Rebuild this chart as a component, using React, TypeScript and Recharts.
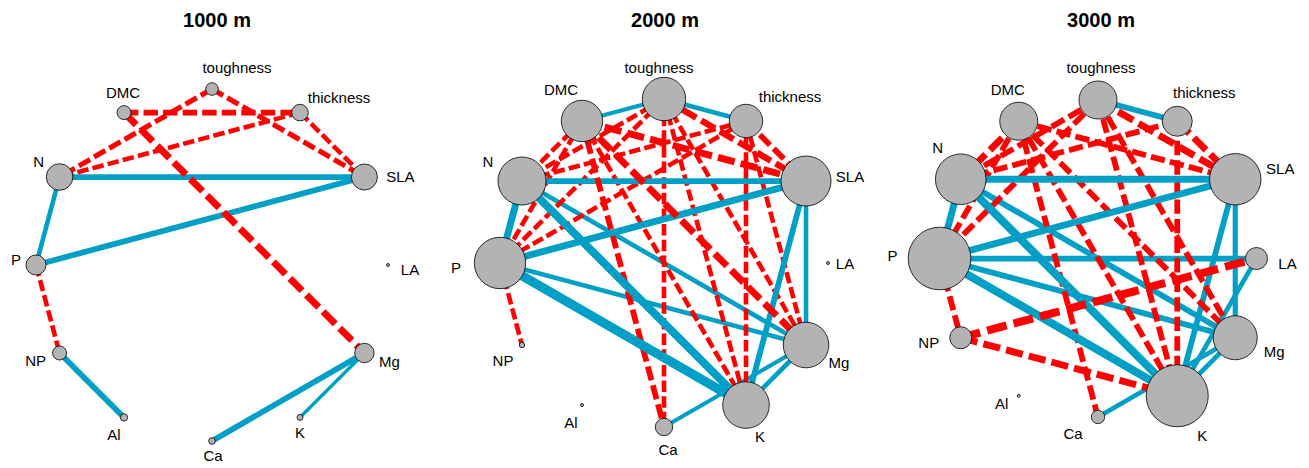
import React from 'react';
import { ScatterChart, Scatter, XAxis, YAxis } from 'recharts';

// Trait / nutrient nodes, laid out on a circle (unit coordinates)
const NODE_NAMES = ['toughness', 'thickness', 'SLA', 'LA', 'Mg', 'K', 'Ca', 'Al', 'NP', 'P', 'N', 'DMC'];
const NODE_X = [0, 0.5, 0.866, 1, 0.866, 0.5, 0, -0.5, -0.866, -1, -0.866, -0.5];
const NODE_Y = [1, 0.866, 0.5, 0, -0.5, -0.866, -1, -0.866, -0.5, 0, 0.5, 0.866];

const PANEL_TITLES = ['1000 m', '2000 m', '3000 m'];

// Node strength per elevation (drawn as circle radius)
const SIZE_1000 = [6.3, 8.3, 13, 1.5, 9.7, 3, 3.3, 3.7, 7, 10, 13.3, 7];
const SIZE_2000 = [21.7, 16.7, 25, 1.5, 22.8, 23.3, 8.7, 1.5, 2.7, 25.7, 24, 20.7];
const SIZE_3000 = [19, 15, 25.7, 11, 22, 31, 6.7, 1.5, 11, 31.3, 25.3, 19];

// Edges: [from, to, weight]; positive = positive correlation, negative = negative
type Edge = [string, string, number];

const EDGES_1000: Edge[] = [
  ['DMC', 'thickness', -5],
  ['DMC', 'Mg', -6],
  ['toughness', 'N', -4.5],
  ['toughness', 'SLA', -4.5],
  ['thickness', 'N', -4],
  ['thickness', 'SLA', -4],
  ['P', 'NP', -4],
  ['N', 'SLA', 5],
  ['N', 'P', 4],
  ['P', 'SLA', 5],
  ['NP', 'Al', 5],
  ['Mg', 'Ca', 5],
  ['Mg', 'K', 3],
];

const EDGES_2000: Edge[] = [
  ['DMC', 'toughness', 3.5],
  ['toughness', 'thickness', 4],
  ['N', 'SLA', 5],
  ['N', 'P', 6],
  ['P', 'SLA', 6],
  ['N', 'Mg', 4],
  ['N', 'K', 7],
  ['P', 'Mg', 4],
  ['P', 'K', 8],
  ['SLA', 'Mg', 4],
  ['SLA', 'K', 5],
  ['Mg', 'K', 4],
  ['Mg', 'Ca', 3.5],
  ['DMC', 'N', -4],
  ['DMC', 'P', -4],
  ['DMC', 'SLA', -6],
  ['DMC', 'Mg', -6],
  ['DMC', 'K', -4],
  ['DMC', 'Ca', -5],
  ['toughness', 'N', -4],
  ['toughness', 'P', -4],
  ['toughness', 'SLA', -5.5],
  ['toughness', 'Ca', -4],
  ['toughness', 'K', -4],
  ['toughness', 'Mg', -4],
  ['thickness', 'N', -4],
  ['thickness', 'P', -4],
  ['thickness', 'SLA', -5],
  ['thickness', 'K', -4],
  ['thickness', 'Mg', -4],
  ['P', 'NP', -4],
];

const EDGES_3000: Edge[] = [
  ['toughness', 'thickness', 5],
  ['N', 'SLA', 6],
  ['N', 'P', 6],
  ['P', 'SLA', 6],
  ['P', 'LA', 5],
  ['P', 'Mg', 5],
  ['P', 'K', 7],
  ['N', 'Mg', 5],
  ['N', 'K', 7],
  ['SLA', 'Mg', 4.5],
  ['SLA', 'K', 5],
  ['LA', 'K', 4],
  ['Mg', 'K', 4],
  ['Mg', 'Ca', 4],
  ['DMC', 'N', -6],
  ['toughness', 'N', -5],
  ['thickness', 'N', -5],
  ['DMC', 'SLA', -5],
  ['toughness', 'SLA', -6],
  ['thickness', 'SLA', -6],
  ['DMC', 'P', -5],
  ['toughness', 'P', -5],
  ['DMC', 'Ca', -5],
  ['DMC', 'K', -5],
  ['DMC', 'Mg', -5],
  ['toughness', 'K', -5],
  ['toughness', 'Mg', -5],
  ['thickness', 'K', -5],
  ['P', 'NP', -5],
  ['NP', 'LA', -7],
  ['NP', 'K', -6],
];

const SIZES = [SIZE_1000, SIZE_2000, SIZE_3000];
const EDGES = [EDGES_1000, EDGES_2000, EDGES_3000];

// ---- layout & style ----
const W = 1309;
const H = 468;
const BLUE = '#00A0C6';
const RED = '#FF0000';
const NODE_FILL = '#B3B3B3';
const FONT = '"Liberation Sans", Arial, Helvetica, sans-serif';
const WIDTH_SCALE = 1.15;

const PANELS = [
  { left: 0, width: 436, cx: 212, cy: 265, r: 176, titleX: 217 },
  { left: 436, width: 442, cx: 664, cy: 263, r: 164, titleX: 665 },
  { left: 878, width: 431, cx: 1098, cy: 258.5, r: 158.5, titleX: 1101 },
];

// label centre offsets (px) from each node centre, per panel
const LABEL_OFFSETS: Record<string, [number, number]>[] = [
  {
    toughness: [25, -21], thickness: [39, -15], SLA: [36, 0], LA: [22, 5], Mg: [25, 9], K: [0, 15],
    Ca: [1, 15], Al: [-10, 17], NP: [-24, 8], P: [-20, -5], N: [-21, -15], DMC: [-1, -20],
  },
  {
    toughness: [-5, -31], thickness: [44, -24], SLA: [44, -4], LA: [17, 1], Mg: [33, 18], K: [14, 32],
    Ca: [4, 23], Al: [-11, 18], NP: [-19, 16], P: [-44, 5], N: [-34, -19], DMC: [-21, -31],
  },
  {
    toughness: [3, -32], thickness: [27, -28], SLA: [45, -11], LA: [31, 5], Mg: [39, 14], K: [25, 40],
    Ca: [-25, 17], Al: [-17, 8], NP: [-32, 5], P: [-47, -3], N: [-23, -32], DMC: [-11, -31],
  },
];

const pt = (name: string) => {
  const i = NODE_NAMES.indexOf(name);
  return { x: NODE_X[i], y: NODE_Y[i], name };
};

const noShape = () => <g />;

const nodeShape = (props: any) => {
  const { cx, cy, payload } = props;
  return <circle cx={cx} cy={cy} r={payload.size} fill={NODE_FILL} stroke="#000" strokeWidth={0.8} />;
};

const makeLabelShape = (offsets: Record<string, [number, number]>) => (props: any) => {
  const { cx, cy, payload } = props;
  const [dx, dy] = offsets[payload.name];
  return (
    <text
      x={cx + dx}
      y={cy + dy}
      dy="0.35em"
      textAnchor="middle"
      fontSize={15}
      fontFamily={FONT}
      fill="#000"
    >
      {payload.name}
    </text>
  );
};

function Panel({ index }: { index: number }) {
  const p = PANELS[index];
  const xDomain: [number, number] = [(p.left - p.cx) / p.r, (p.left + p.width - p.cx) / p.r];
  const yDomain: [number, number] = [-(H - p.cy) / p.r, p.cy / p.r];
  const nodes = NODE_NAMES.map((name, i) => ({ x: NODE_X[i], y: NODE_Y[i], name, size: SIZES[index][i] }));
  const edges = [...EDGES[index]].sort((a, b) => Math.abs(a[2]) - Math.abs(b[2]));

  return (
    <div style={{ position: 'absolute', left: p.left, top: 0 }}>
      <ScatterChart width={p.width} height={H} margin={{ top: 0, right: 0, bottom: 0, left: 0 }}>
        <XAxis type="number" dataKey="x" domain={xDomain} allowDataOverflow hide />
        <YAxis type="number" dataKey="y" domain={yDomain} allowDataOverflow hide />
        {edges.map(([a, b, w], i) => {
          const lw = Math.abs(w) * WIDTH_SCALE;
          const neg = w < 0;
          return (
            <Scatter
              key={`e${i}`}
              data={[pt(a), pt(b)]}
              shape={noShape}
              line={{
                stroke: neg ? RED : BLUE,
                strokeWidth: lw,
                strokeDasharray: neg ? `${(2.5 * lw).toFixed(2)} ${(0.9 * lw).toFixed(2)}` : undefined,
              }}
              isAnimationActive={false}
            />
          );
        })}
        <Scatter data={nodes} shape={nodeShape} isAnimationActive={false} />
        <Scatter data={nodes} shape={makeLabelShape(LABEL_OFFSETS[index])} isAnimationActive={false} />
      </ScatterChart>
    </div>
  );
}

export default function App() {
  return (
    <div style={{ position: 'absolute', left: 0, top: 0, width: W, height: H, overflow: 'hidden', background: '#fff' }}>
      {PANELS.map((_, i) => (
        <Panel key={i} index={i} />
      ))}
      <svg width={W} height={H} style={{ position: 'absolute', left: 0, top: 0, pointerEvents: 'none' }}>
        {PANELS.map((p, i) => (
          <text
            key={i}
            x={p.titleX}
            y={27}
            textAnchor="middle"
            fontSize={20}
            fontWeight="bold"
            fontFamily={FONT}
            fill="#000"
          >
            {PANEL_TITLES[i]}
          </text>
        ))}
      </svg>
    </div>
  );
}
